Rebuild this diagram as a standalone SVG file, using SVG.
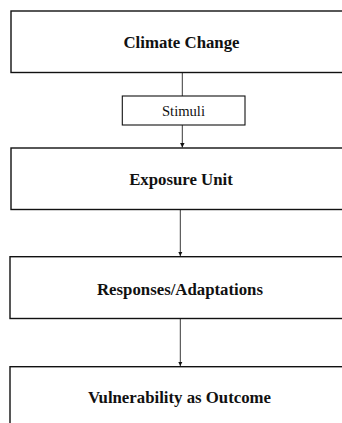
<svg xmlns="http://www.w3.org/2000/svg" width="342" height="423" viewBox="0 0 342 423">
  <style>
    .box { fill: #ffffff; stroke: #111111; stroke-width: 1.4; }
    .small { fill: #ffffff; stroke: #111111; stroke-width: 1.1; }
    .title { font-family: "Liberation Serif", "Times New Roman", serif; font-weight: bold; font-size: 16.8px; fill: #111111; text-anchor: middle; }
    .label { font-family: "Liberation Serif", "Times New Roman", serif; font-size: 14.6px; fill: #111111; text-anchor: middle; }
    .link { stroke: #222222; stroke-width: 0.9; fill: none; }
  </style>
  <defs>
    <marker id="arrow" viewBox="0 0 10 10" refX="10" refY="5" markerWidth="4.5" markerHeight="4.5" markerUnits="userSpaceOnUse" orient="auto">
      <path d="M0,0 L10,5 L0,10 z" fill="#111111"/>
    </marker>
  </defs>
  <rect width="342" height="423" fill="#ffffff"/>

  <g id="connectors">
    <line class="link" x1="182.3" y1="73" x2="182.3" y2="96"/>
    <line class="link" x1="182.3" y1="125" x2="182.3" y2="147.5" marker-end="url(#arrow)"/>
    <line class="link" x1="180.3" y1="210" x2="180.3" y2="256" marker-end="url(#arrow)"/>
    <line class="link" x1="180.3" y1="319" x2="180.3" y2="366" marker-end="url(#arrow)"/>
  </g>

  <g id="climate-change">
    <rect class="box" x="11" y="11" width="345" height="61.5"/>
    <text class="title" x="181.5" y="48.3">Climate Change</text>
  </g>

  <g id="stimuli">
    <rect class="small" x="122.3" y="96" width="122.7" height="29"/>
    <text class="label" x="183.5" y="115.5">Stimuli</text>
  </g>

  <g id="exposure-unit">
    <rect class="box" x="11" y="148" width="345" height="61.5"/>
    <text class="title" x="181" y="185">Exposure Unit</text>
  </g>

  <g id="responses-adaptations">
    <rect class="box" x="10" y="256.7" width="346" height="61.8"/>
    <text class="title" x="180" y="295">Responses/Adaptations</text>
  </g>

  <g id="vulnerability-outcome">
    <rect class="box" x="10" y="366.7" width="346" height="70"/>
    <text class="title" x="179.5" y="402.7">Vulnerability as Outcome</text>
  </g>
</svg>
